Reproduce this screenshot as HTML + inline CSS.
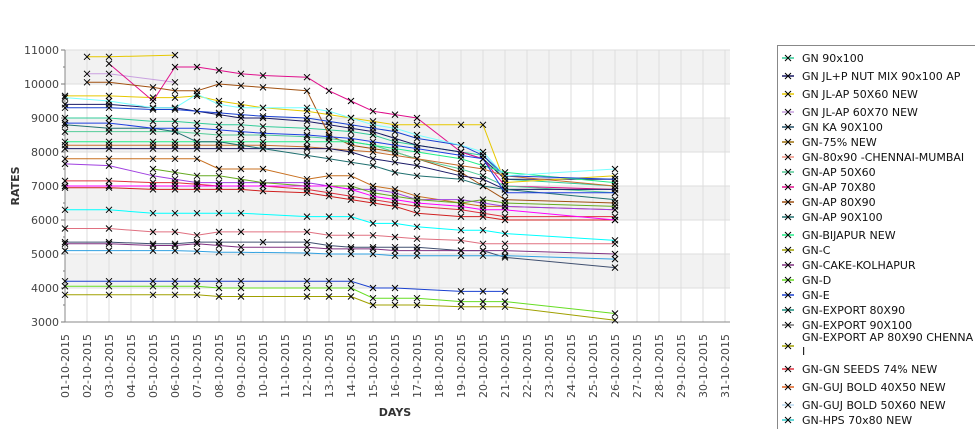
<!DOCTYPE html>
<html><head><meta charset="utf-8"><style>
body{margin:0;background:#fff;width:975px;height:429px;overflow:hidden;font-family:"Liberation Sans","DejaVu Sans",sans-serif}
svg text{font-family:"DejaVu Sans","Liberation Sans",sans-serif}
</style></head><body>
<svg id="chart" width="975" height="429" xmlns="http://www.w3.org/2000/svg"></svg>
<script>
const days=[1,2,3,5,6,7,8,9,10,12,13,14,15,16,17,19,20,21,26];
const yTicks=[3000,4000,5000,6000,7000,8000,9000,10000,11000];
const legendNames=["GN 90x100","GN JL+P NUT MIX 90x100 AP","GN JL-AP 50X60 NEW","GN JL-AP 60X70 NEW","GN KA 90X100","GN-75% NEW","GN-80x90 -CHENNAI-MUMBAI","GN-AP 50X60","GN-AP 70X80","GN-AP 80X90","GN-AP 90X100","GN-BIJAPUR NEW","GN-C","GN-CAKE-KOLHAPUR","GN-D","GN-E","GN-EXPORT 80X90","GN-EXPORT 90X100","GN-EXPORT AP 80X90 CHENNA I","GN-GN SEEDS 74% NEW","GN-GUJ BOLD 40X50 NEW","GN-GUJ BOLD 50X60 NEW","GN-HPS  70x80 NEW"];
const legendColors=["#3c9","#1a1a66","#e6c800","#c9a0e0","#1f4d66","#a0700a","#f09080","#5c9","#e0108c","#a05010","#207070","#2e8","#a0a000","#803080","#6d2","#1a40d0","#1a9080","#777","#a0a000","#e03040","#e06020","#b8d8f0","#3cc"];
const s1=[9000,null,9000,8900,8900,8850,8800,8800,8750,8700,8650,8600,8500,8300,8200,8000,7900,7200,7000];
const s2=[9400,null,9400,9300,9300,9200,9100,9000,9000,8900,8800,8700,8600,8400,8200,8000,7800,7200,7200];
const s3=[null,10800,10800,null,10850,null,null,null,null,null,null,null,null,null,null,null,null,null,null];
const s4=[9650,null,9650,9600,9600,9650,9500,9400,9300,9200,9100,9000,8900,8800,8800,8800,8800,7100,7300];
const s5=[null,10300,10300,null,10050,null,null,null,null,null,null,null,null,null,null,null,null,null,null];
const s6=[null,null,10600,9500,10500,10500,10400,10300,10250,10200,9800,9500,9200,9100,9000,8000,7800,7000,6900];
const s7=[null,10050,10050,9900,9800,9800,10000,9950,9900,9800,8500,8200,8100,8000,7800,7400,7000,6600,6500];
const s8=[8600,null,8600,8600,8600,8550,8500,8500,8500,8450,8400,8300,8200,8000,7800,7500,7300,7000,6800];
const s9=[8300,null,8300,8300,8300,8300,8300,8300,8300,8300,8300,8300,8200,8100,8000,7800,7600,7400,7100];
const s10=[8200,null,8200,8200,8200,8200,8200,8200,8200,8150,8100,8050,8000,7900,7800,7600,7500,7300,7000];
const s11=[8100,null,8100,8100,8100,8100,8100,8100,8100,8100,8100,8000,7800,7700,7600,7300,7200,6900,6900];
const s12=[8800,null,8700,8700,8600,8300,8300,8200,8100,7900,7800,7700,7600,7400,7300,7200,7000,6900,6600];
const s13=[7800,null,7800,7800,7800,7800,7500,7500,7500,7200,7300,7300,7000,6900,6700,6500,6400,6400,6300];
const s14=[7650,null,7600,7300,7200,7100,7100,7100,7100,7100,7000,6900,6900,6800,6600,6600,6500,6400,6300];
const s15=[null,null,null,7500,7400,7300,7300,7200,7100,7000,7000,7000,6800,6700,6600,6500,6600,6500,6400];
const s16=[7150,null,7150,7100,7100,7050,7000,7000,7000,6900,6800,6700,6600,6500,6400,6300,6200,6100,6100];
const s17=[6950,null,6950,6900,6900,6900,6900,6900,6850,6800,6700,6600,6500,6400,6200,6100,6100,6000,6000];
const s18=[7000,null,7000,7000,7000,7000,7000,7000,7000,7000,7000,6900,6700,6600,6500,6400,6300,6300,6000];
const s19=[6300,null,6300,6200,6200,6200,6200,6200,null,6100,6100,6100,5900,5900,5800,5700,5700,5600,5400];
const s20=[5750,null,5750,5650,5650,5550,5650,5650,null,5650,5550,5550,5550,5500,5450,5400,5300,5300,5300];
const s21=[5350,null,5350,5300,5300,5350,5350,null,5350,5350,5250,5200,5200,5200,5200,5100,5100,4900,4600];
const s22=[5300,null,5300,5250,5250,5300,5250,5200,null,5200,5150,5150,5150,5100,5100,5100,5100,5100,5000];
const s23=[5100,null,5100,5100,5100,5080,5050,5050,null,5030,5000,5000,5000,4950,4950,4950,4950,4950,4850];
const s24=[4200,null,4200,4200,4200,4200,4200,4200,null,4200,4200,4200,4000,4000,null,3900,3900,3900,null];
const s25=[4050,null,4050,4050,4050,4050,4000,4000,null,4000,4000,4000,3700,3700,3700,3600,3600,3600,3250];
const s26=[3800,null,3800,3800,3800,3800,3750,3750,null,3750,3750,3750,3500,3500,3500,3450,3450,3450,3050];
const s27=[9300,null,9300,9250,9250,9200,9150,9100,9050,9000,8900,8800,8700,8600,8400,8200,7900,7300,7200];
const s28=[8850,null,8850,8700,8700,8700,8650,8600,8550,8500,8450,8400,8300,8200,8100,7900,7800,6800,6800];
const s29=[9600,null,9500,9300,9300,9700,9400,9300,9300,9300,9200,9000,8800,8700,8500,8200,8000,7300,7500];
const series=[s1,s2,s3,s4,s5,s6,s7,s8,s9,s10,s11,s12,s13,s14,s15,s16,s17,s18,s19,s20,s21,s22,s23,s24,s25,s26,s27,s28,s29];
const seriesColors=["#3c9","#1a1a66","#e6c800","#e6c800","#c9a0e0","#e0108c","#a05010","#5c9","#2e8","#c87030","#1a1a66","#207070","#c87020","#a040e0","#6a2","#e03040","#d02020","#f0f","#0ff","#e07080","#405070","#803080","#30a0e0","#1a40d0","#6d2","#a0a000","#1a40d0","#2040e0","#7ff"];

const NS="http://www.w3.org/2000/svg";
const svg=document.getElementById('chart');
const X0=65,DX=22,Y0=322,PX=34,RIGHT=730;
const xs=d=>X0+DX*(d-1);
const ys=v=>Y0-(v-3000)*PX/1000;
function mk(tag,attrs,parent){const e=document.createElementNS(NS,tag);for(const k in attrs)e.setAttribute(k,attrs[k]);(parent||svg).appendChild(e);return e;}

// bands
for(let i=0;i<8;i++){
  const r=mk('rect',{x:X0,y:ys(3000+(i+1)*1000),width:RIGHT-X0,height:PX,fill:(i%2===1)?'#f2f2f2':'#ffffff'});
  
  
}
// vertical grid
for(let d=1;d<=31;d++){
  const l=mk('line',{x1:xs(d),x2:xs(d),y1:ys(11000),y2:Y0,stroke:'#ddd','stroke-width':1});
  
  
}
// horizontal grid + y ticks
yTicks.forEach(v=>{
  const l=mk('line',{x1:X0,x2:RIGHT,y1:ys(v),y2:ys(v),stroke:'#ddd'});
  
  
  const t=mk('text',{x:X0-6,y:ys(v)+4,'text-anchor':'end','font-size':11,fill:'#444'});
  t.textContent=v;
  
  
  mk('line',{x1:X0-4,x2:X0,y1:ys(v),y2:ys(v),stroke:'#777'});
});
for(let v=3500;v<11000;v+=1000){mk('line',{x1:X0-2,x2:X0,y1:ys(v),y2:ys(v),stroke:'#777'});}
// axes
const ya=mk('line',{x1:X0,x2:X0,y1:ys(11000),y2:Y0,stroke:'#888'});


const xa=mk('line',{x1:X0,x2:RIGHT,y1:Y0,y2:Y0,stroke:'#888'});


// x labels
for(let d=1;d<=31;d++){
  const lab=String(d).padStart(2,'0')+'-10-2015';
  const t=mk('text',{x:0,y:0,'text-anchor':'end','font-size':11,fill:'#444',transform:`translate(${xs(d)+4},334) rotate(-90)`});
  t.textContent=lab;
  
  
}
// series
series.forEach((arr,si)=>{
  const g=mk('g',{});
  
  
  let prev=null;
  arr.forEach((v,i)=>{
    if(v==null)return;
    const x=xs(days[i]),y=ys(v);
    if(prev){mk('line',{x1:prev[0],y1:prev[1],x2:x,y2:y,stroke:seriesColors[si],'stroke-width':1},g);}
    prev=[x,y];
  });
  arr.forEach((v,i)=>{
    if(v==null)return;
    const x=xs(days[i]),y=ys(v);
    const p=mk('path',{d:`M${x-3},${y-3}L${x+3},${y+3}M${x-3},${y+3}L${x+3},${y-3}`,stroke:'#000','stroke-width':1},g);
    
    
  });
});
// axis titles
const yt=mk('text',{x:0,y:0,'font-size':11,'font-weight':'bold',fill:'#333','text-anchor':'middle',transform:'translate(19,186) rotate(-90)'});
yt.textContent='RATES';


const xt=mk('text',{x:395,y:416,'font-size':11,'font-weight':'bold',fill:'#333','text-anchor':'middle'});
xt.textContent='DAYS';


// legend
const lg=mk('g',{});


mk('rect',{x:777.5,y:45.5,width:200,height:390,fill:'#fff',stroke:'#888'},lg);
const ly=[58,76,94,112,127,142,157,172,187,202,217,235,250,265,280,295,310,325,346,369,387,405,420];
legendNames.forEach((n,i)=>{
  const e=mk('g',{},lg);
  
  
  const y=ly[i];
  mk('line',{x1:782,x2:794,y1:y,y2:y,stroke:legendColors[i],'stroke-width':1.5},e);
  mk('path',{d:`M785,${y-3}L791,${y+3}M785,${y+3}L791,${y-3}`,stroke:'#000'},e);
  if(n.indexOf('CHENNA I')>=0){
    const t=mk('text',{x:802,y:y-5,'font-size':11,fill:'#111'},e);t.textContent='GN-EXPORT AP 80X90 CHENNA';
    const t2=mk('text',{x:802,y:y+9,'font-size':11,fill:'#111'},e);t2.textContent='I';
  } else {
    const t=mk('text',{x:802,y:y+4,'font-size':11,fill:'#111'},e);t.textContent=n;
  }
});
</script>
</body></html>
